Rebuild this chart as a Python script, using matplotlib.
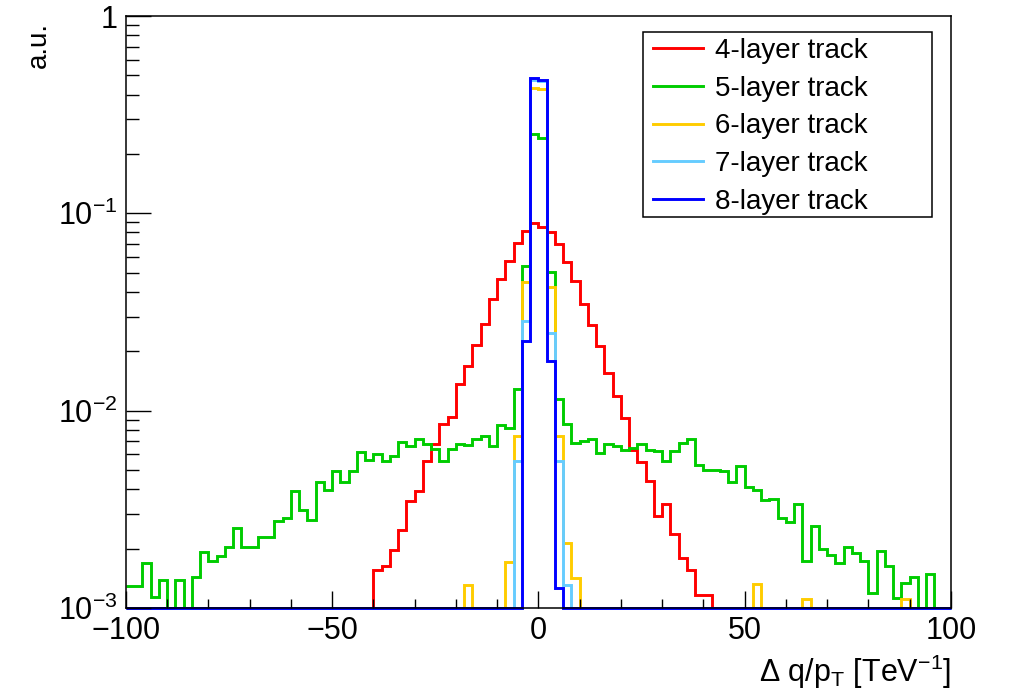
import numpy as np
import matplotlib
matplotlib.use("Agg")
import matplotlib.pyplot as plt
from matplotlib.patches import Rectangle
from matplotlib.ticker import FixedLocator, FuncFormatter, LogLocator, NullFormatter

plt.rcParams["font.family"] = ["Liberation Sans", "DejaVu Sans"]
plt.rcParams["mathtext.fontset"] = "custom"
plt.rcParams["mathtext.rm"] = "Liberation Sans"
plt.rcParams["mathtext.it"] = "Liberation Sans:italic"
plt.rcParams["mathtext.default"] = "regular"

# Binning of the Delta q/pT histograms: 100 bins of 2 TeV^-1 from -100 to 100
x_min, x_max, n_bins = -100.0, 100.0, 100

# Normalised bin contents (a.u.), one entry per bin, left to right
track_4layer = [
    0, 0, 0, 0, 0, 0, 0, 0, 0, 0,
    0, 0, 0, 0, 0, 0, 0, 0, 0, 0,
    0, 0, 0, 0, 0, 0, 0, 0, 0, 0,
    1.56e-3, 1.64e-3, 1.97e-3, 2.49e-3, 3.47e-3, 3.90e-3, 5.54e-3, 6.74e-3, 8.52e-3, 9.25e-3,
    0.0136, 0.0169, 0.0215, 0.0275, 0.0368, 0.0465, 0.0576, 0.0704, 0.0810, 0.0893,
    0.0855, 0.0800, 0.0697, 0.0569, 0.0456, 0.0347, 0.0272, 0.0213, 0.0155, 0.0119,
    9.15e-3, 6.3e-3, 5.5e-3, 4.42e-3, 2.92e-3, 3.36e-3, 2.38e-3, 1.80e-3, 1.56e-3, 1.17e-3,
    1.17e-3, 0, 0, 0, 0, 0, 0, 0, 0, 0,
    0, 0, 0, 0, 0, 0, 0, 0, 0, 0,
    0, 0, 0, 0, 0, 0, 0, 0, 0, 0,
]

track_5layer = [
    1.29e-3, 1.29e-3, 1.69e-3, 1.14e-3, 1.39e-3, 0, 1.39e-3, 0, 1.44e-3, 1.93e-3,
    1.73e-3, 1.84e-3, 2.04e-3, 2.54e-3, 2.04e-3, 2.04e-3, 2.29e-3, 2.29e-3, 2.75e-3, 2.86e-3,
    3.90e-3, 3.15e-3, 2.80e-3, 4.35e-3, 3.95e-3, 4.92e-3, 4.37e-3, 4.92e-3, 6.20e-3, 5.63e-3,
    6.01e-3, 5.53e-3, 5.90e-3, 6.97e-3, 6.63e-3, 7.19e-3, 6.74e-3, 6.36e-3, 5.59e-3, 6.41e-3,
    6.80e-3, 6.69e-3, 7.20e-3, 7.43e-3, 6.66e-3, 8.45e-3, 8.13e-3, 0.0129, 0.0544, 0.251,
    0.242, 0.0503, 0.0115, 8.59e-3, 6.88e-3, 7.01e-3, 7.15e-3, 6.11e-3, 6.74e-3, 6.66e-3,
    6.31e-3, 6.49e-3, 6.74e-3, 6.31e-3, 6.24e-3, 5.54e-3, 6.24e-3, 6.82e-3, 7.15e-3, 5.29e-3,
    5.03e-3, 5.03e-3, 4.93e-3, 4.35e-3, 5.23e-3, 4.11e-3, 3.95e-3, 3.54e-3, 3.58e-3, 2.86e-3,
    2.73e-3, 3.38e-3, 1.73e-3, 2.59e-3, 1.99e-3, 1.85e-3, 1.69e-3, 2.04e-3, 1.90e-3, 1.73e-3,
    1.19e-3, 1.94e-3, 1.64e-3, 1.13e-3, 1.34e-3, 1.43e-3, 0, 1.48e-3, 0, 0,
]

track_6layer = [
    0, 0, 0, 0, 0, 0, 0, 0, 0, 0,
    0, 0, 0, 0, 0, 0, 0, 0, 0, 0,
    0, 0, 0, 0, 0, 0, 0, 0, 0, 0,
    0, 0, 0, 0, 0, 0, 0, 0, 0, 0,
    0, 1.31e-3, 0, 0, 0, 0, 1.72e-3, 7.43e-3, 0.0451, 0.430,
    0.425, 0.0422, 7.43e-3, 2.13e-3, 1.42e-3, 0, 0, 0, 0, 0,
    0, 0, 0, 0, 0, 0, 0, 0, 0, 0,
    0, 0, 0, 0, 0, 0, 1.32e-3, 0, 0, 0,
    0, 0, 1.11e-3, 0, 0, 0, 0, 0, 0, 0,
    0, 0, 0, 0, 1.11e-3, 0, 0, 0, 0, 0,
]

track_7layer = [
    0, 0, 0, 0, 0, 0, 0, 0, 0, 0,
    0, 0, 0, 0, 0, 0, 0, 0, 0, 0,
    0, 0, 0, 0, 0, 0, 0, 0, 0, 0,
    0, 0, 0, 0, 0, 0, 0, 0, 0, 0,
    0, 0, 0, 0, 0, 0, 0, 5.54e-3, 0.0286, 0.472,
    0.466, 0.0247, 5.54e-3, 1.31e-3, 0, 0, 0, 0, 0, 0,
    0, 0, 0, 0, 0, 0, 0, 0, 0, 0,
    0, 0, 0, 0, 0, 0, 0, 0, 0, 0,
    0, 0, 0, 0, 0, 0, 0, 0, 0, 0,
    0, 0, 0, 0, 0, 0, 0, 0, 0, 0,
]

track_8layer = [
    0, 0, 0, 0, 0, 0, 0, 0, 0, 0,
    0, 0, 0, 0, 0, 0, 0, 0, 0, 0,
    0, 0, 0, 0, 0, 0, 0, 0, 0, 0,
    0, 0, 0, 0, 0, 0, 0, 0, 0, 0,
    0, 0, 0, 0, 0, 0, 0, 0, 0.0226, 0.483,
    0.474, 0.0179, 1.26e-3, 0, 0, 0, 0, 0, 0, 0,
    0, 0, 0, 0, 0, 0, 0, 0, 0, 0,
    0, 0, 0, 0, 0, 0, 0, 0, 0, 0,
    0, 0, 0, 0, 0, 0, 0, 0, 0, 0,
    0, 0, 0, 0, 0, 0, 0, 0, 0, 0,
]

series_labels = ["4-layer track", "5-layer track", "6-layer track",
                 "7-layer track", "8-layer track"]
series_colors = ["#ff0000", "#00cc00", "#ffcc00", "#66ccff", "#0000ff"]

y_min, y_max = 1e-3, 1.0

fig = plt.figure(figsize=(10.15, 6.96), dpi=100)
ax = fig.add_axes([0.1241, 0.1264, 0.8128, 0.8506])

edges = np.linspace(x_min, x_max, n_bins + 1)
all_series = [track_4layer, track_5layer, track_6layer, track_7layer, track_8layer]
for values, label, color in zip(all_series, series_labels, series_colors):
    # empty or tiny bins sit on the lower edge of the log axis
    shown = np.clip(np.asarray(values, dtype=float), y_min, None)
    ax.stairs(shown, edges, baseline=None, color=color, linewidth=2.1,
              label=label, clip_on=False)

ax.set_xlim(x_min, x_max)
ax.set_yscale("log")
ax.set_ylim(y_min, y_max)

# ticks: inside, on left and bottom only
ax.xaxis.set_major_locator(FixedLocator([-100, -50, 0, 50, 100]))
ax.xaxis.set_minor_locator(FixedLocator(np.arange(-90, 100, 10)))
ax.yaxis.set_major_locator(LogLocator(base=10, numticks=10))
ax.yaxis.set_minor_locator(LogLocator(base=10, subs=np.arange(2, 10), numticks=20))
ax.yaxis.set_minor_formatter(NullFormatter())


def decade_label(v, pos):
    e = int(round(np.log10(v)))
    if e == 0:
        return "1"
    return r"$\mathregular{10^{%d}}$" % e


ax.yaxis.set_major_formatter(FuncFormatter(decade_label))
ax.xaxis.set_major_formatter(FuncFormatter(lambda v, p: "\u2212%d" % abs(v) if v < 0 else "%d" % v))

ax.tick_params(axis="both", which="both", direction="in", top=False, right=False,
               labelsize=22, width=1.0, color="black")
ax.tick_params(axis="x", which="major", length=12.5, pad=6)
ax.tick_params(axis="x", which="minor", length=6.5)
ax.tick_params(axis="y", which="major", length=18, pad=6)
ax.tick_params(axis="y", which="minor", length=9.5)

for spine in ax.spines.values():
    spine.set_linewidth(1.1)

ax.set_xlabel(r"$\Delta$ q/p$_{\mathregular{T}}$ [TeV$^{\mathregular{-1}}$]", fontsize=22,
              ha="right")
ax.xaxis.set_label_coords(1.0, -0.075)
ax.set_ylabel("a.u.", fontsize=20, ha="right")
ax.yaxis.set_label_coords(-0.0897, 0.99)

# legend box with fixed size, entries placed inside it
legend_box = Rectangle((0.6267, 0.661), 0.9766 - 0.6267, 0.9735 - 0.661,
                       transform=ax.transAxes, facecolor="white", edgecolor="black",
                       linewidth=1.1, zorder=5)
ax.add_patch(legend_box)
leg = ax.legend(loc="upper left", bbox_to_anchor=(0.6388, 0.9630), fontsize=20,
                frameon=False, handlelength=1.8, handletextpad=0.45,
                labelspacing=0.42, borderpad=0.0, borderaxespad=0.0)
leg.set_zorder(6)

fig.savefig("out.png", dpi=100)
